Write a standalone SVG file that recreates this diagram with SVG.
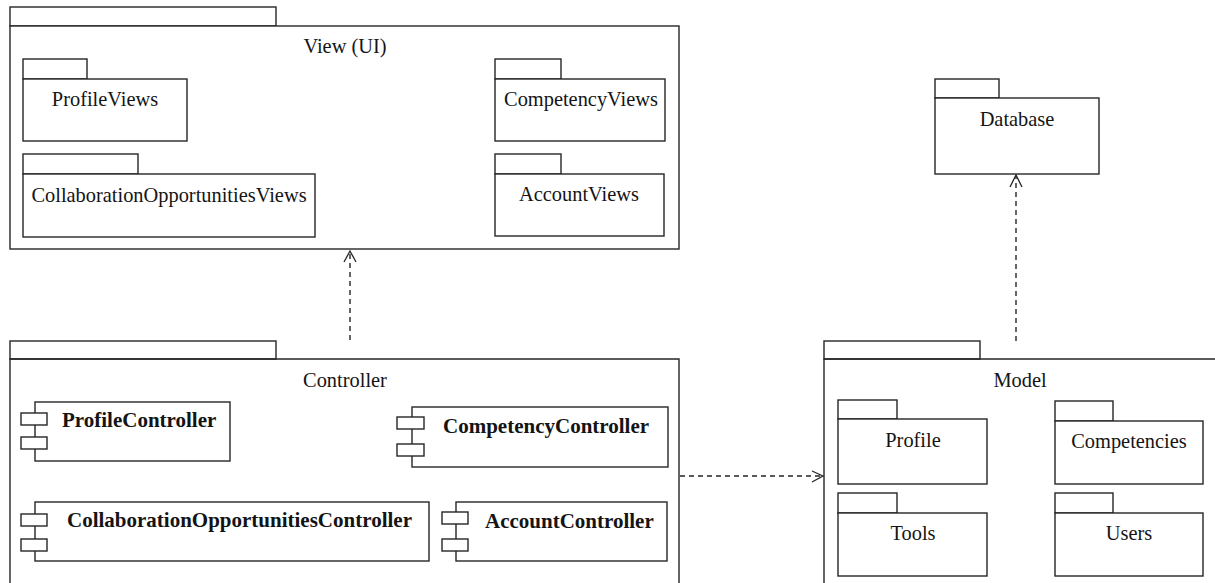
<svg xmlns="http://www.w3.org/2000/svg" width="1215" height="583" viewBox="0 0 1215 583">
  <style>
    .box { fill: #ffffff; stroke: #262626; stroke-width: 1.4; }
    .edge { fill: none; stroke: #262626; stroke-width: 1.4; }
    .dep { fill: none; stroke: #262626; stroke-width: 1.4; stroke-dasharray: 5 4; }
    .head { fill: none; stroke: #262626; stroke-width: 1.3; }
    .label { font-family: 'Liberation Serif', Tinos, 'Times New Roman', Times, 'DejaVu Serif', serif; font-size: 20.4px; fill: #141414; }
    .title { text-anchor: middle; }
    .comp { font-family: 'Liberation Serif', Tinos, 'Times New Roman', Times, 'DejaVu Serif', serif; font-size: 21px; font-weight: bold; fill: #141414; }
  </style>
  <rect width="1215" height="583" fill="#ffffff"/>

  <!-- View (UI) package -->
  <g id="view-ui">
    <rect class="box" x="10" y="7" width="266" height="19"/>
    <rect class="box" x="10" y="26" width="669" height="223"/>
    <text class="label title" x="345" y="53">View (UI)</text>
    <g id="profile-views">
      <rect class="box" x="23" y="59" width="64" height="20"/>
      <rect class="box" x="23" y="79" width="164" height="62"/>
      <text class="label title" x="105" y="106">ProfileViews</text>
    </g>
    <g id="collaboration-views">
      <rect class="box" x="23" y="154" width="115" height="20"/>
      <rect class="box" x="23" y="174" width="292" height="63"/>
      <text class="label title" x="169" y="202">CollaborationOpportunitiesViews</text>
    </g>
    <g id="competency-views">
      <rect class="box" x="495" y="59" width="66" height="20"/>
      <rect class="box" x="495" y="79" width="170" height="62"/>
      <text class="label title" x="581" y="106">CompetencyViews</text>
    </g>
    <g id="account-views">
      <rect class="box" x="495" y="154" width="66" height="20"/>
      <rect class="box" x="495" y="174" width="169" height="62"/>
      <text class="label title" x="579" y="201">AccountViews</text>
    </g>
  </g>

  <!-- Controller package -->
  <g id="controller">
    <rect class="box" x="10" y="341" width="266" height="18"/>
    <path class="edge" d="M10,584 V359 H679 V584"/>
    <text class="label title" x="345" y="387">Controller</text>
    <g id="profile-controller">
      <rect class="box" x="35" y="402" width="195" height="59"/>
      <rect class="box" x="21" y="413" width="26" height="12"/>
      <rect class="box" x="21" y="437" width="26" height="12"/>
      <text class="comp" x="62" y="427">ProfileController</text>
    </g>
    <g id="collaboration-controller">
      <rect class="box" x="35" y="502" width="394" height="59"/>
      <rect class="box" x="21" y="514" width="26" height="12"/>
      <rect class="box" x="21" y="539" width="26" height="12"/>
      <text class="comp" x="67" y="527">CollaborationOpportunitiesController</text>
    </g>
    <g id="competency-controller">
      <rect class="box" x="412" y="407" width="256" height="60"/>
      <rect class="box" x="397" y="417" width="27" height="12"/>
      <rect class="box" x="397" y="444" width="27" height="12"/>
      <text class="comp" x="443" y="433">CompetencyController</text>
    </g>
    <g id="account-controller">
      <rect class="box" x="456" y="502" width="211" height="59"/>
      <rect class="box" x="442" y="512" width="26" height="12"/>
      <rect class="box" x="442" y="539" width="26" height="12"/>
      <text class="comp" x="485" y="528">AccountController</text>
    </g>
  </g>

  <!-- Database package -->
  <g id="database">
    <rect class="box" x="935" y="79" width="64" height="19"/>
    <rect class="box" x="935" y="98" width="164" height="76"/>
    <text class="label title" x="1017" y="126">Database</text>
  </g>

  <!-- Model package -->
  <g id="model">
    <rect class="box" x="824" y="341" width="156" height="18"/>
    <path class="edge" d="M824,584 V359 H1216"/>
    <text class="label title" x="1020" y="387">Model</text>
    <g id="model-profile">
      <rect class="box" x="838" y="400" width="59" height="19"/>
      <rect class="box" x="838" y="419" width="149" height="65"/>
      <text class="label title" x="913" y="447">Profile</text>
    </g>
    <g id="model-competencies">
      <rect class="box" x="1055" y="401" width="58" height="20"/>
      <rect class="box" x="1055" y="421" width="148" height="63"/>
      <text class="label title" x="1129" y="448">Competencies</text>
    </g>
    <g id="model-tools">
      <rect class="box" x="838" y="493" width="59" height="20"/>
      <rect class="box" x="838" y="513" width="149" height="63"/>
      <text class="label title" x="913" y="540">Tools</text>
    </g>
    <g id="model-users">
      <rect class="box" x="1055" y="493" width="58" height="20"/>
      <rect class="box" x="1055" y="513" width="148" height="63"/>
      <text class="label title" x="1129" y="540">Users</text>
    </g>
  </g>

  <!-- dependency connectors -->
  <g id="connectors">
    <line class="dep" x1="350" y1="340" x2="350" y2="252"/>
    <path class="head" d="M344,262 L350,251 L356,262"/>

    <line class="dep" x1="1016" y1="341" x2="1016" y2="176"/>
    <path class="head" d="M1010,187 L1016,175 L1022,187"/>

    <line class="dep" x1="680" y1="476" x2="822" y2="476"/>
    <path class="head" d="M812,471 L823,476 L812,482"/>
  </g>
</svg>
